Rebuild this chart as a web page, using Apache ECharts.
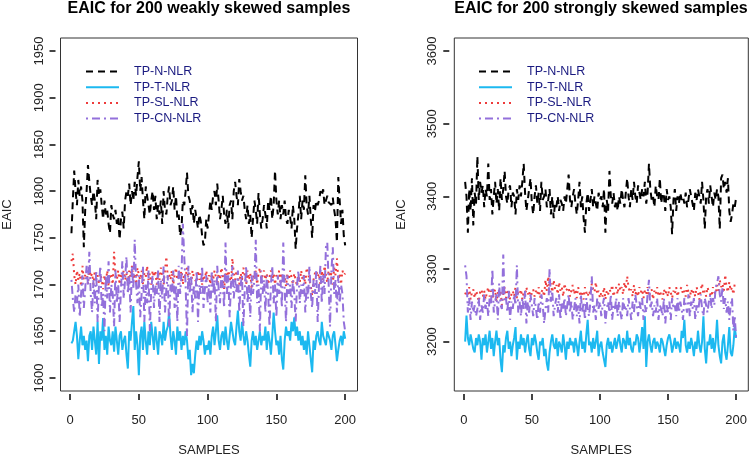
<!DOCTYPE html>
<html>
<head>
<meta charset="utf-8">
<script src="https://cdn.jsdelivr.net/npm/echarts@6/dist/echarts.min.js"></script>
<style>html,body{margin:0;padding:0;background:#fff;}#c{width:750px;height:462px;}</style>
</head>
<body>
<div id="c"></div>
<script>
var seriesNames = ['TP-N-NLR', 'TP-T-NLR', 'TP-SL-NLR', 'TP-CN-NLR'];
var xTicks = [0, 50, 100, 150, 200];
var yTicksLeft = [1600, 1650, 1700, 1750, 1800, 1850, 1900, 1950];
var yTicksRight = [3200, 3300, 3400, 3500, 3600];
var titleLeft = 'EAIC for 200 weakly skewed samples';
var titleRight = 'EAIC for 200 strongly skewed samples';

// Weakly skewed (left panel)
var weakN = [
1755,1790,1822,1800,1785,1812,1795,1805,1790,1740,1780,1800,1828,1810,1795,1785,1800,1790,1770,1812,
1795,1802,1785,1770,1790,1775,1780,1765,1755,1785,1775,1770,1780,1765,1772,1748,1770,1778,1760,1790,
1800,1795,1808,1785,1800,1790,1810,1795,1815,1832,1800,1815,1790,1770,1805,1795,1785,1775,1790,1800,
1780,1795,1770,1785,1775,1790,1765,1800,1780,1775,1795,1805,1785,1790,1805,1780,1795,1770,1775,1752,
1760,1790,1785,1800,1820,1795,1790,1775,1785,1765,1780,1770,1760,1775,1768,1752,1742,1745,1770,1760,
1775,1790,1780,1795,1800,1785,1808,1790,1770,1780,1795,1775,1765,1780,1760,1785,1790,1770,1800,1810,
1795,1785,1813,1800,1790,1795,1780,1770,1785,1765,1775,1750,1770,1790,1780,1765,1798,1775,1760,1770,
1785,1775,1760,1790,1780,1795,1770,1785,1822,1790,1775,1790,1770,1785,1775,1790,1770,1765,1780,1772,
1760,1785,1770,1738,1760,1775,1795,1770,1790,1780,1817,1785,1775,1795,1770,1750,1785,1778,1790,1785,
1790,1800,1795,1802,1785,1790,1795,1788,1790,1785,1793,1780,1770,1745,1815,1790,1765,1780,1752,1742];
var weakT = [
1637,1640,1650,1660,1645,1620,1640,1655,1635,1645,1630,1640,1618,1645,1650,1630,1655,1640,1625,1660,
1615,1650,1640,1664,1630,1645,1625,1655,1640,1635,1650,1628,1655,1640,1625,1645,1650,1630,1640,1645,
1625,1610,1650,1640,1660,1677,1630,1650,1635,1603,1645,1655,1630,1660,1640,1625,1650,1635,1660,1645,
1630,1655,1640,1625,1650,1645,1635,1660,1640,1650,1655,1670,1645,1630,1650,1640,1625,1655,1640,1650,
1630,1645,1635,1650,1640,1620,1630,1603,1615,1605,1625,1640,1630,1645,1635,1650,1640,1625,1635,1630,
1640,1625,1645,1655,1635,1650,1667,1640,1630,1645,1650,1635,1655,1640,1630,1645,1660,1650,1640,1635,
1655,1672,1650,1640,1660,1645,1635,1650,1640,1625,1612,1640,1650,1635,1645,1630,1640,1650,1635,1645,
1640,1655,1630,1650,1640,1625,1645,1670,1650,1635,1640,1625,1645,1620,1609,1640,1655,1645,1650,1640,
1660,1650,1665,1645,1655,1640,1650,1635,1645,1630,1640,1625,1650,1635,1620,1606,1640,1630,1645,1650,
1640,1635,1660,1645,1640,1635,1650,1645,1640,1630,1645,1650,1635,1618,1630,1640,1645,1635,1650,1642];
var weakSL = [
1725,1733,1710,1700,1715,1705,1712,1698,1720,1705,1710,1715,1700,1718,1708,1712,1700,1715,1705,1710,
1700,1712,1705,1695,1710,1702,1715,1698,1708,1712,1700,1735,1710,1705,1715,1700,1712,1708,1715,1705,
1712,1700,1715,1708,1720,1705,1712,1700,1718,1710,1705,1715,1700,1712,1708,1720,1705,1712,1700,1715,
1708,1715,1700,1712,1705,1718,1710,1700,1715,1730,1708,1712,1705,1715,1700,1710,1718,1705,1712,1708,
1715,1700,1712,1708,1718,1705,1712,1700,1715,1708,1710,1702,1715,1705,1712,1700,1710,1706,1715,1705,
1710,1700,1712,1705,1715,1708,1700,1712,1705,1718,1710,1695,1712,1705,1715,1708,1700,1728,1712,1705,
1715,1708,1700,1712,1705,1718,1710,1700,1715,1705,1712,1695,1710,1705,1715,1700,1712,1718,1705,1710,
1715,1705,1712,1700,1708,1715,1705,1712,1700,1710,1706,1715,1700,1712,1705,1710,1698,1712,1705,1715,
1708,1700,1712,1705,1698,1710,1702,1715,1705,1710,1700,1718,1712,1705,1698,1688,1705,1712,1715,1708,
1712,1700,1715,1705,1720,1710,1702,1715,1708,1712,1700,1718,1710,1728,1705,1712,1700,1715,1710,1712];
var weakCN = [
1705,1685,1670,1690,1680,1700,1665,1690,1710,1675,1695,1720,1700,1735,1690,1670,1705,1680,1715,1660,
1700,1720,1675,1690,1650,1710,1685,1725,1670,1700,1690,1655,1715,1680,1700,1660,1695,1725,1685,1705,
1730,1690,1710,1670,1720,1695,1748,1700,1680,1710,1665,1690,1720,1660,1700,1680,1715,1650,1695,1710,
1675,1700,1690,1715,1660,1705,1685,1720,1670,1695,1710,1655,1700,1690,1715,1675,1700,1660,1720,1690,
1710,1765,1730,1700,1645,1720,1690,1710,1670,1700,1685,1715,1660,1700,1690,1720,1675,1695,1710,1680,
1700,1670,1715,1690,1705,1660,1720,1695,1680,1710,1700,1675,1745,1690,1710,1665,1700,1720,1685,1705,
1690,1715,1670,1700,1710,1655,1695,1720,1680,1700,1665,1710,1690,1705,1748,1680,1700,1650,1715,1690,
1705,1670,1710,1690,1655,1700,1720,1680,1700,1665,1710,1690,1705,1675,1745,1695,1660,1710,1690,1700,
1675,1705,1690,1660,1700,1715,1680,1700,1690,1710,1670,1700,1685,1720,1690,1675,1705,1690,1715,1660,
1700,1720,1680,1710,1690,1740,1745,1700,1655,1715,1740,1690,1705,1670,1710,1680,1700,1690,1660,1650];

// Strongly skewed (right panel)
var strongN = [
3420,3400,3350,3410,3380,3425,3360,3405,3390,3455,3395,3420,3405,3415,3385,3410,3400,3445,3395,3410,
3375,3400,3420,3390,3410,3380,3425,3395,3410,3435,3400,3390,3410,3415,3385,3405,3400,3375,3410,3395,
3415,3400,3420,3445,3405,3380,3395,3410,3425,3390,3375,3400,3415,3390,3405,3380,3420,3395,3400,3410,
3385,3395,3410,3375,3400,3370,3390,3385,3400,3380,3395,3390,3380,3400,3390,3410,3430,3395,3385,3400,
3410,3390,3375,3395,3420,3385,3400,3370,3350,3390,3405,3380,3395,3410,3385,3400,3390,3380,3405,3395,
3400,3385,3410,3350,3395,3380,3435,3400,3390,3405,3385,3395,3380,3400,3390,3410,3395,3385,3405,3425,
3400,3385,3410,3395,3420,3400,3390,3415,3405,3395,3410,3400,3420,3390,3405,3445,3410,3395,3400,3385,
3415,3400,3395,3425,3390,3405,3400,3380,3410,3395,3400,3385,3348,3395,3410,3380,3400,3390,3405,3395,
3400,3390,3405,3385,3395,3410,3400,3390,3380,3405,3395,3410,3400,3390,3420,3395,3355,3400,3410,3390,
3415,3400,3385,3405,3395,3410,3400,3355,3425,3430,3410,3420,3405,3425,3380,3365,3375,3390,3385,3398];
var strongT = [
3200,3236,3205,3195,3210,3200,3190,3185,3205,3195,3210,3200,3175,3205,3195,3210,3185,3200,3215,3190,
3205,3180,3200,3215,3195,3205,3175,3158,3195,3185,3205,3215,3190,3200,3180,3195,3205,3220,3175,3200,
3190,3210,3195,3205,3185,3200,3210,3190,3180,3205,3195,3210,3200,3185,3175,3200,3195,3205,3180,3190,
3170,3160,3185,3200,3210,3195,3190,3205,3180,3200,3195,3185,3210,3195,3175,3200,3190,3205,3195,3200,
3185,3205,3195,3180,3200,3215,3190,3200,3185,3210,3230,3195,3200,3185,3205,3190,3200,3215,3180,3195,
3200,3185,3175,3165,3195,3205,3190,3200,3185,3195,3205,3190,3200,3210,3195,3185,3205,3200,3190,3215,
3195,3205,3190,3185,3200,3195,3210,3205,3185,3200,3220,3190,3235,3165,3200,3210,3195,3185,3200,3205,
3190,3200,3195,3185,3205,3200,3190,3180,3195,3205,3210,3200,3185,3195,3205,3190,3200,3195,3185,3215,
3205,3230,3195,3185,3200,3190,3205,3195,3180,3200,3190,3215,3195,3185,3200,3235,3190,3170,3200,3195,
3210,3190,3205,3185,3200,3230,3195,3180,3170,3200,3210,3185,3175,3195,3220,3185,3180,3195,3220,3205];
var strongSL = [
3265,3270,3262,3275,3258,3268,3272,3260,3270,3265,3255,3268,3272,3262,3270,3258,3268,3275,3262,3270,
3258,3265,3272,3255,3268,3262,3270,3250,3265,3275,3260,3268,3272,3258,3265,3270,3262,3275,3260,3268,
3265,3272,3258,3268,3262,3275,3265,3270,3258,3268,3272,3262,3270,3265,3275,3260,3268,3272,3262,3285,
3270,3290,3275,3280,3268,3285,3272,3278,3265,3282,3270,3275,3262,3280,3270,3268,3275,3262,3270,3278,
3265,3272,3260,3275,3268,3262,3270,3258,3275,3268,3262,3270,3265,3280,3272,3268,3282,3265,3270,3260,
3268,3262,3275,3258,3270,3265,3272,3268,3278,3262,3270,3275,3265,3280,3270,3275,3265,3282,3272,3290,
3275,3268,3272,3262,3278,3265,3270,3262,3275,3268,3272,3260,3270,3265,3275,3262,3268,3272,3258,3270,
3265,3275,3262,3270,3268,3258,3272,3265,3270,3262,3275,3268,3260,3270,3265,3275,3262,3270,3268,3275,
3265,3270,3262,3278,3268,3260,3272,3265,3270,3262,3275,3268,3258,3270,3280,3265,3270,3262,3275,3268,
3270,3262,3275,3268,3265,3278,3270,3285,3275,3280,3270,3292,3275,3268,3282,3270,3275,3265,3280,3278];
var strongCN = [
3305,3290,3240,3260,3230,3255,3240,3250,3235,3245,3260,3230,3250,3240,3265,3245,3255,3235,3260,3250,
3300,3240,3255,3265,3230,3280,3250,3245,3320,3255,3260,3240,3270,3230,3255,3245,3265,3250,3305,3240,
3255,3235,3260,3245,3270,3225,3255,3240,3265,3250,3235,3260,3245,3230,3255,3240,3265,3250,3225,3245,
3260,3240,3300,3255,3270,3235,3250,3260,3240,3265,3230,3255,3245,3260,3235,3250,3265,3240,3255,3230,
3245,3260,3235,3250,3225,3265,3240,3255,3230,3260,3245,3235,3255,3290,3240,3250,3230,3260,3245,3255,
3235,3250,3260,3225,3245,3255,3240,3265,3230,3250,3245,3260,3235,3255,3240,3230,3260,3245,3250,3235,
3260,3245,3230,3255,3240,3265,3250,3235,3255,3245,3260,3230,3250,3240,3265,3285,3245,3255,3235,3250,
3240,3260,3230,3250,3245,3235,3260,3225,3250,3240,3255,3230,3260,3245,3250,3235,3260,3240,3255,3245,
3230,3260,3250,3240,3265,3235,3255,3245,3260,3230,3250,3240,3255,3265,3245,3235,3260,3250,3240,3255,
3265,3245,3260,3250,3275,3280,3290,3265,3255,3275,3245,3260,3240,3255,3230,3250,3260,3215,3235,3205];

var colors = ['#000000', '#1CB9F0', '#EE3B3B', '#9370DB'];
var dashes = [[7, 5], 'solid', [2, 4], [2, 4, 8, 4]];
var FONT = "'Liberation Sans', Arial, sans-serif";

function toPairs(arr) { return arr.map(function (v, i) { return [i + 1, v]; }); }

var chart = echarts.init(document.getElementById('c'));

var grids = [
  { left: 60.5, top: 38, width: 297, height: 360 },
  { left: 454.3, top: 38, width: 294, height: 360 }
];

function plainNum(v) { return String(v); }

function xAxisDef(idx) {
  return {
    type: 'value', gridIndex: idx, min: -6.96, max: 208.96,
    offset: 3,
    axisLine: { show: true, onZero: false, lineStyle: { color: '#ffffff', width: 1 } },
    axisTick: { show: true, length: 6, customValues: xTicks, lineStyle: { color: '#444444', width: 2 } },
    axisLabel: { customValues: xTicks, formatter: plainNum, margin: 20, fontSize: 13, color: '#222', fontFamily: FONT },
    splitLine: { show: false },
    name: 'SAMPLES', nameLocation: 'middle', nameGap: 50,
    nameTextStyle: { fontSize: 13, color: '#222', fontFamily: FONT }
  };
}
function yAxisDef(idx, mn, mx, ticks) {
  return {
    type: 'value', gridIndex: idx, min: mn, max: mx,
    offset: 5,
    axisLine: { show: true, onZero: false, lineStyle: { color: '#ffffff', width: 1 } },
    axisTick: { show: true, length: 6, customValues: ticks, lineStyle: { color: '#444444', width: 2 } },
    axisLabel: { customValues: ticks, formatter: plainNum, rotate: 90, margin: 10, fontSize: 13, color: '#222', fontFamily: FONT },
    splitLine: { show: false },
    name: 'EAIC', nameLocation: 'middle', nameGap: 41.5, nameRotate: 90,
    nameTextStyle: { fontSize: 13, color: '#222', fontFamily: FONT }
  };
}

var panelData = [[weakN, weakT, weakSL, weakCN], [strongN, strongT, strongSL, strongCN]];
var series = [];
panelData.forEach(function (set, p) {
  set.forEach(function (arr, k) {
    series.push({
      type: 'line', name: seriesNames[k], xAxisIndex: p, yAxisIndex: p,
      data: toPairs(arr), symbol: 'none', silent: true, animation: false,
      lineStyle: { color: colors[k], width: 2, type: dashes[k] },
      itemStyle: { color: colors[k] }
    });
  });
});

function legendDef(left) {
  return {
    data: seriesNames, orient: 'vertical', left: left, top: 65, padding: 0,
    itemWidth: 33, itemHeight: 14, itemGap: 2.7,
    selectedMode: false,
    itemStyle: { opacity: 0 },
    textStyle: { fontSize: 12.5, color: '#1a1a80', fontFamily: FONT, padding: [0, 0, 0, 10] }
  };
}

chart.setOption({
  backgroundColor: '#ffffff',
  animation: false,
  title: [
    { text: titleLeft, left: 209, textAlign: 'center', top: 1, padding: 0,
      textStyle: { fontSize: 16, fontWeight: 'bold', color: '#000', fontFamily: FONT } },
    { text: titleRight, left: 601, textAlign: 'center', top: 1, padding: 0,
      textStyle: { fontSize: 16, fontWeight: 'bold', color: '#000', fontFamily: FONT } }
  ],
  legend: [legendDef(85), legendDef(478)],
  grid: grids.map(function (g) {
    return Object.assign({ show: true, borderColor: '#333', borderWidth: 1, backgroundColor: 'transparent', containLabel: false }, g);
  }),
  xAxis: [xAxisDef(0), xAxisDef(1)],
  yAxis: [yAxisDef(0, 1586, 1964, yTicksLeft), yAxisDef(1, 3132, 3618, yTicksRight)],
  series: series
});
</script>
</body>
</html>
